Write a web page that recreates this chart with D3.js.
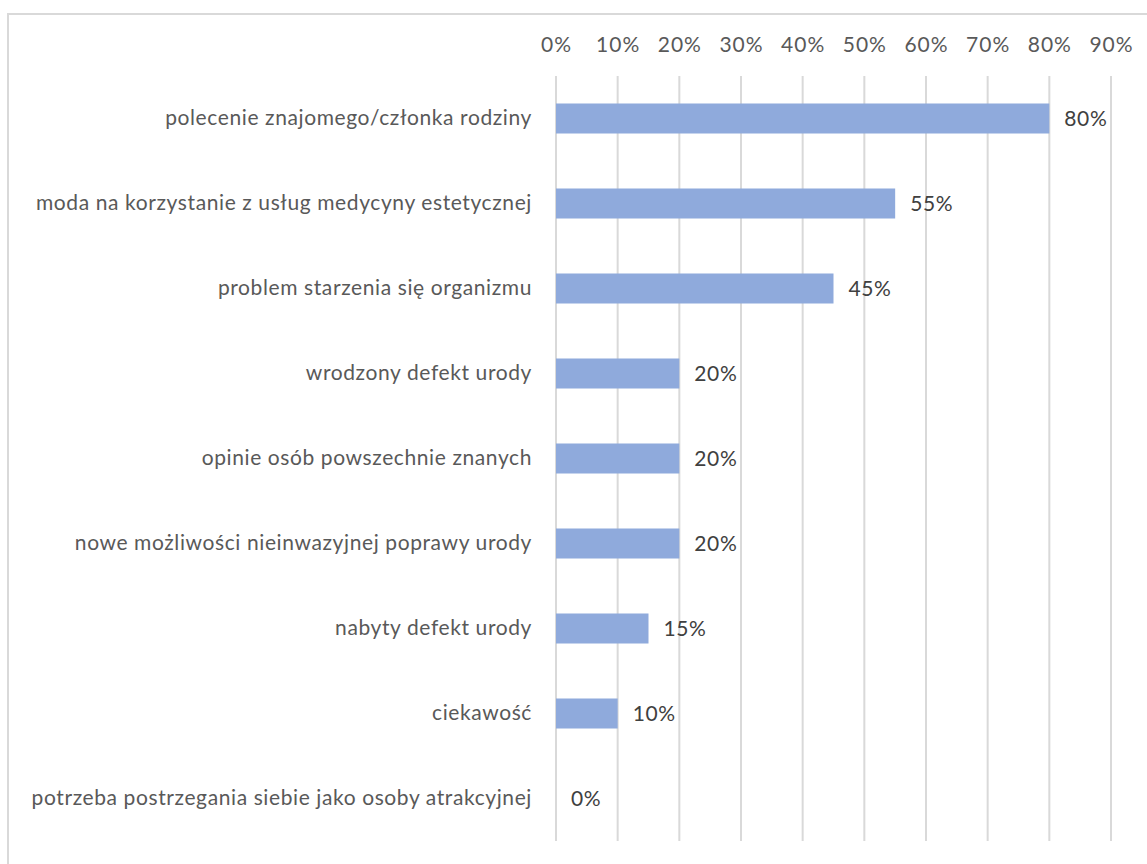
<!DOCTYPE html>
<html>
<head>
<meta charset="utf-8">
<script src="https://cdn.jsdelivr.net/npm/d3@7"></script>
<style>
  html, body { margin: 0; padding: 0; background: #ffffff; }
  svg { display: block; }
</style>
</head>
<body>
<svg id="chart" width="1147" height="864"></svg>
<script>
// Reasons for using aesthetic medicine services (share of respondents)
const categories = [
  "polecenie znajomego/członka rodziny",
  "moda na korzystanie z usług medycyny estetycznej",
  "problem starzenia się organizmu",
  "wrodzony defekt urody",
  "opinie osób powszechnie znanych",
  "nowe możliwości nieinwazyjnej poprawy urody",
  "nabyty defekt urody",
  "ciekawość",
  "potrzeba postrzegania siebie jako osoby atrakcyjnej"
];
const values = [0.80, 0.55, 0.45, 0.20, 0.20, 0.20, 0.15, 0.10, 0.00];
const tickValues = [0, 0.1, 0.2, 0.3, 0.4, 0.5, 0.6, 0.7, 0.8, 0.9];

const svg = d3.select("#chart");
const font = "Lato, 'Open Sans', sans-serif";
const textColor = "#595959";
const gridColor = "#d9d9d9";
const barColor = "#8faadc";

// outer chart frame
svg.append("rect")
  .attr("x", 8).attr("y", 14)
  .attr("width", 1200).attr("height", 900)
  .attr("fill", "none")
  .attr("stroke", gridColor)
  .attr("stroke-width", 2);

const x = d3.scaleLinear().domain([0, 0.9]).range([556, 1111]);
const y = d3.scaleBand().domain(categories).range([76, 841]).paddingInner(0.647).paddingOuter(0.3235);

// vertical gridlines
svg.append("g").selectAll("line")
  .data(tickValues)
  .join("line")
  .attr("x1", d => x(d)).attr("x2", d => x(d))
  .attr("y1", 76).attr("y2", 841)
  .attr("stroke", gridColor)
  .attr("stroke-width", 2);

// top axis labels
const axis = d3.axisTop(x)
  .tickValues(tickValues)
  .tickFormat(d3.format(".0%"))
  .tickSize(0)
  .tickPadding(0);
const gAxis = svg.append("g").attr("transform", "translate(0,52)").call(axis);
gAxis.select(".domain").remove();
gAxis.selectAll("text")
  .attr("font-family", font)
  .attr("font-size", 21)
  .attr("letter-spacing", 1)
  .attr("fill", textColor);

// category labels
const gy = svg.append("g").attr("transform", "translate(532,0)")
  .call(d3.axisLeft(y).tickSize(0).tickPadding(0));
gy.select(".domain").remove();
gy.selectAll("text")
  .attr("font-family", font)
  .attr("font-size", 21)
  .attr("letter-spacing", 0.6)
  .attr("fill", textColor);

// bars
svg.append("g").selectAll("rect")
  .data(values)
  .join("rect")
  .attr("x", x(0))
  .attr("y", (d, i) => y(categories[i]))
  .attr("width", d => x(d) - x(0))
  .attr("height", y.bandwidth())
  .attr("fill", barColor);

// value labels
svg.append("g").selectAll("text")
  .data(values)
  .join("text")
  .attr("x", d => x(d) + 15)
  .attr("y", (d, i) => y(categories[i]) + y.bandwidth() / 2)
  .attr("dy", "0.35em")
  .attr("font-family", font)
  .attr("font-size", 21)
  .attr("letter-spacing", 0.6)
  .attr("fill", "#404040")
  .text(d => d3.format(".0%")(d));
</script>
</body>
</html>
